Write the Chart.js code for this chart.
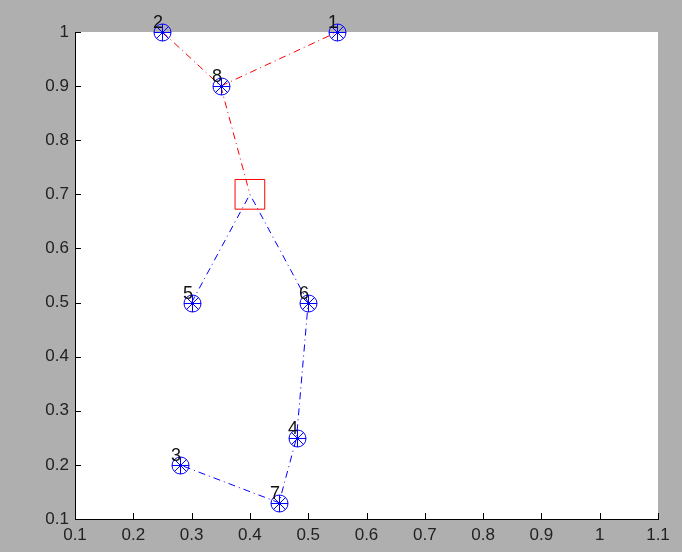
<!DOCTYPE html>
<html>
<head>
<meta charset="utf-8">
<script src="https://cdn.jsdelivr.net/npm/chart.js@4.4.0/dist/chart.umd.min.js"></script>
<style>
  html, body { margin: 0; padding: 0; background: #afafaf; }
  #plot { display: block; }
</style>
</head>
<body>
<canvas id="plot" width="682" height="552"></canvas>
<script>
"use strict";

// --- data ---
const nodeLabels = ['1', '2', '3', '4', '5', '6', '7', '8'];
const nodeX = [0.55, 0.25, 0.28, 0.48, 0.30, 0.50, 0.45, 0.35];
const nodeY = [1.00, 1.00, 0.20, 0.25, 0.50, 0.50, 0.13, 0.90];
const hubX = [0.40];
const hubY = [0.70];
// routes, by node label ('hub' = the square)
const redRoutes = [['2', '8', '1'], ['8', 'hub']];
const blueRoute = ['5', 'hub', '6', '4', '7', '3'];
const xTicks = [0.1, 0.2, 0.3, 0.4, 0.5, 0.6, 0.7, 0.8, 0.9, 1, 1.1];
const yTicks = [0.1, 0.2, 0.3, 0.4, 0.5, 0.6, 0.7, 0.8, 0.9, 1];

const Chart = window.Chart;

function pointOf(name) {
    if (name === 'hub') return { x: hubX[0], y: hubY[0] };
    const i = nodeLabels.indexOf(name);
    return { x: nodeX[i], y: nodeY[i] };
}

/** Circle with a star inside (MATLAB 'o' + '*'), snapped to whole pixels. */
function drawMarker(ctx, x, y) {
    const cx = Math.round(x) + 0.5, cy = Math.round(y) + 0.5, r = 8.5;
    ctx.strokeStyle = '#0000ff';
    ctx.lineWidth = 1;
    ctx.beginPath();
    ctx.arc(cx, cy, r, 0, Math.PI * 2);
    ctx.stroke();
    ctx.beginPath();
    for (let k = 0; k < 4; k++) {
        const a = k * Math.PI / 4;
        ctx.moveTo(cx - r * Math.cos(a), cy - r * Math.sin(a));
        ctx.lineTo(cx + r * Math.cos(a), cy + r * Math.sin(a));
    }
    ctx.stroke();
    ctx.fillStyle = '#0000ff';
    ctx.fillRect(cx - 1.5, cy - 1.5, 3, 3);
}

const dashDot = [7, 4, 1, 4];

const lineDatasets = redRoutes.map(route => ({
    type: 'line',
    data: route.map(pointOf),
    borderColor: '#ff0000',
    borderWidth: 1,
    borderDash: dashDot,
    pointRadius: 0,
    fill: false,
    order: 2
}));
lineDatasets.push({
    type: 'line',
    data: blueRoute.map(pointOf),
    borderColor: '#0000ff',
    borderWidth: 1,
    borderDash: dashDot,
    pointRadius: 0,
    fill: false,
    order: 2
});

// white plot area, markers, inward ticks and number labels
const matlabLook = {
    id: 'matlabLook',
    beforeDraw(chart) {
        const { ctx, chartArea: a } = chart;
        ctx.save();
        ctx.fillStyle = '#ffffff';
        ctx.fillRect(a.left, a.top, a.right - a.left, a.bottom - a.top);
        ctx.restore();
    },
    afterDatasetsDraw(chart) {
        const { ctx } = chart;
        const meta = chart.getDatasetMeta(0);
        ctx.save();
        meta.data.forEach(el => drawMarker(ctx, el.x, el.y));
        ctx.fillStyle = '#111111';
        ctx.font = '18px "Liberation Sans", Arial, sans-serif';
        ctx.textAlign = 'right';
        ctx.textBaseline = 'alphabetic';
        meta.data.forEach((el, i) => {
            ctx.fillText(nodeLabels[i], Math.round(el.x) + 1, Math.round(el.y) - 4);
        });
        ctx.restore();
    },
    afterDraw(chart) {
        const { ctx, chartArea: a, scales: { x, y } } = chart;
        ctx.save();
        ctx.strokeStyle = '#000000';
        ctx.lineWidth = 1;
        ctx.beginPath();
        xTicks.forEach(v => {
            const px = Math.round(x.getPixelForValue(v)) + 0.5;
            ctx.moveTo(px, a.bottom);
            ctx.lineTo(px, a.bottom - 6);
        });
        yTicks.forEach(v => {
            const py = Math.round(y.getPixelForValue(v)) + 0.5;
            ctx.moveTo(a.left, py);
            ctx.lineTo(a.left + 6, py);
        });
        ctx.stroke();
        ctx.restore();
    }
};

const tickFont = { family: '"Liberation Sans", Arial, sans-serif', size: 17 };

new Chart(document.getElementById('plot').getContext('2d'), {
    type: 'scatter',
    data: {
        datasets: [
            {
                label: 'nodes',
                data: nodeX.map((v, i) => ({ x: v, y: nodeY[i] })),
                pointStyle: false,
                pointRadius: 9,
                order: 0
            },
            {
                label: 'hub',
                data: hubX.map((v, i) => ({ x: v, y: hubY[i] })),
                pointStyle: 'rect',
                pointRadius: 21,
                borderColor: '#ff0000',
                borderWidth: 1,
                backgroundColor: 'rgba(0,0,0,0)',
                order: 1
            },
            ...lineDatasets
        ]
    },
    options: {
        responsive: false,
        animation: false,
        events: [],
        layout: { padding: { top: 32, right: 24, left: 0, bottom: 0 } },
        plugins: {
            legend: { display: false },
            tooltip: { enabled: false }
        },
        scales: {
            x: {
                type: 'linear',
                min: 0.1,
                max: 1.1,
                afterBuildTicks: s => { s.ticks = xTicks.map(v => ({ value: v })); },
                afterFit: s => { s.height = 33; },
                ticks: {
                    color: '#222222',
                    font: tickFont,
                    padding: 6,
                    maxRotation: 0,
                    autoSkip: false,
                    callback: v => String(+v.toFixed(1))
                },
                grid: { drawOnChartArea: false, drawTicks: false },
                border: { display: true, color: '#000000', width: 1 }
            },
            y: {
                type: 'linear',
                min: 0.1,
                max: 1,
                afterBuildTicks: s => { s.ticks = yTicks.map(v => ({ value: v })); },
                afterFit: s => { s.width = 75; },
                ticks: {
                    color: '#222222',
                    font: tickFont,
                    padding: 6,
                    autoSkip: false,
                    callback: v => String(+v.toFixed(1))
                },
                grid: { drawOnChartArea: false, drawTicks: false },
                border: { display: true, color: '#000000', width: 1 }
            }
        }
    },
    plugins: [matlabLook]
});
</script>
</body>
</html>
